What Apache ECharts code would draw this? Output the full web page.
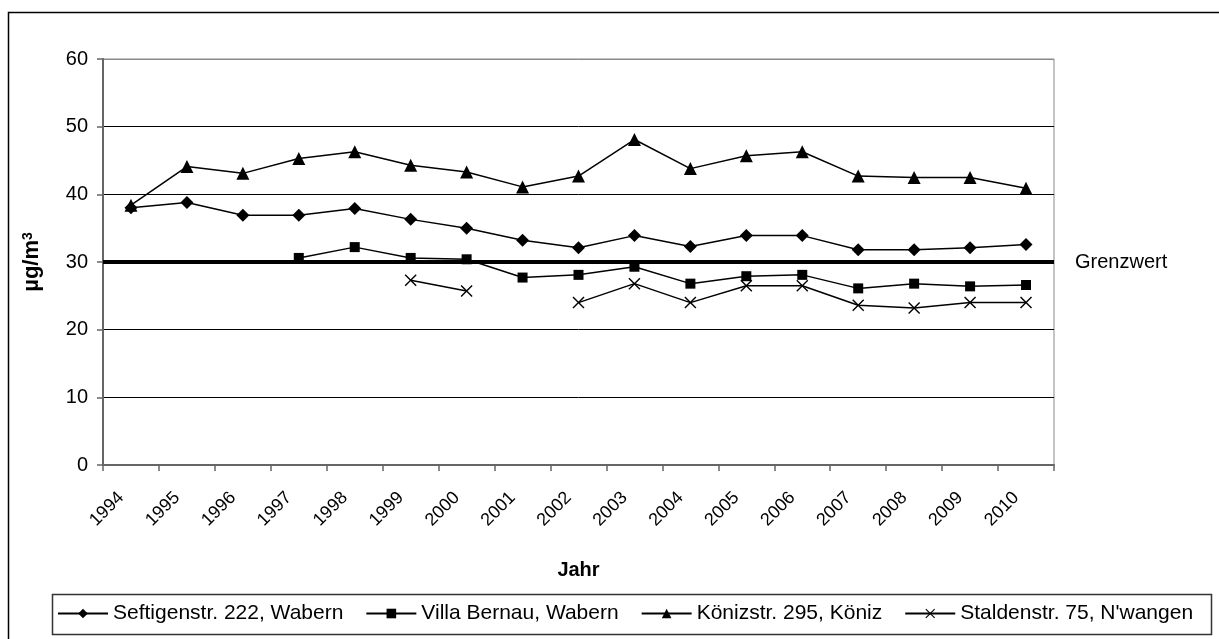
<!DOCTYPE html>
<html>
<head>
<meta charset="utf-8">
<script src="https://cdn.jsdelivr.net/npm/echarts@6/dist/echarts.min.js"></script>
<style>
  html, body { margin: 0; padding: 0; background: #fff; }
  #main { width: 1219px; height: 639px; }
</style>
</head>
<body>
<div id="main"></div>
<script>
var years = ['1994', '1995', '1996', '1997', '1998', '1999', '2000', '2001', '2002',
	'2003', '2004', '2005', '2006', '2007', '2008', '2009', '2010'];
var yTicks = [0, 10, 20, 30, 40, 50, 60];
var grenzwert = 30;

var seftigen = [38.0, 38.8, 36.9, 36.9, 37.9, 36.3, 35.0, 33.2, 32.1,
	33.9, 32.3, 33.9, 33.9, 31.8, 31.8, 32.1, 32.6];
var villaBernau = [null, null, null, 30.6, 32.2, 30.6, 30.4, 27.7, 28.1,
	29.3, 26.8, 27.9, 28.1, 26.1, 26.8, 26.4, 26.6];
var koeniz = [38.4, 44.1, 43.1, 45.3, 46.3, 44.3, 43.3, 41.1, 42.7,
	48.1, 43.8, 45.7, 46.3, 42.7, 42.5, 42.5, 40.9];
var stalden = [null, null, null, null, null, 27.3, 25.7, null, 24.0,
	26.8, 24.0, 26.5, 26.5, 23.6, 23.2, 24.0, 24.0];

var seriesNames = ['Seftigenstr. 222, Wabern', 'Villa Bernau, Wabern',
	'Könizstr. 295, Köniz', 'Staldenstr. 75, N\'wangen'];

// X marker as a thin filled polygon (path symbols are filled, not stroked)
var crossSymbol = 'path://M0,1L1,0L6,5L11,0L12,1L7,6L12,11L11,12L6,7L1,12L0,11L5,6Z';

var font = 'Liberation Sans, Arial, sans-serif';

function lineSeries(name, data, symbol, size) {
	return {
		name: name,
		type: 'line',
		data: data,
		symbol: symbol,
		symbolSize: size,
		connectNulls: false,
		itemStyle: { color: '#000' },
		lineStyle: { color: '#000', width: 1.5 },
		emphasis: { disabled: true },
		animation: false
	};
}

var myChart = echarts.init(document.getElementById('main'));

var series = [
	lineSeries(seriesNames[0], seftigen, 'diamond', 13),
	lineSeries(seriesNames[1], villaBernau, 'rect', 10),
	lineSeries(seriesNames[2], koeniz, 'triangle', 13),
	lineSeries(seriesNames[3], stalden, crossSymbol, 12)
];

series.push({
	name: 'Grenzwert',
	type: 'line',
	data: [],
	animation: false,
	markLine: {
		silent: true,
		symbol: ['none', 'none'],
		lineStyle: { color: '#000', width: 4, type: 'solid' },
		label: {
			show: true,
			position: 'end',
			formatter: 'Grenzwert',
			distance: 21,
			color: '#000',
			fontFamily: font,
			fontSize: 20
		},
		data: [{ yAxis: grenzwert }]
	}
});

option = {
	backgroundColor: '#fff',
	textStyle: { fontFamily: font },
	grid: {
		left: 103,
		right: 165,
		top: 59,
		bottom: 174,
		show: true,
		borderColor: '#888',
		borderWidth: 1
	},
	legend: {
		data: seriesNames,
		left: 57,
		top: 603,
		padding: 0,
		itemWidth: 50,
		itemHeight: 12,
		itemGap: 22,
		textStyle: { fontFamily: font, fontSize: 21, color: '#000' }
	},
	xAxis: {
		type: 'category',
		data: years,
		boundaryGap: true,
		name: 'Jahr',
		nameLocation: 'middle',
		nameGap: 95,
		nameTextStyle: { fontFamily: font, fontSize: 20, fontWeight: 'bold', color: '#000' },
		axisLine: { lineStyle: { color: '#666', width: 2 } },
		axisTick: { show: true, interval: 0, alignWithLabel: false, length: 6, lineStyle: { color: '#666', width: 1.5 } },
		axisLabel: {
			interval: 0, rotate: 45, margin: 20, padding: [0, 14, 0, 0],
			fontFamily: font, fontSize: 18, color: '#000'
		},
		splitLine: { show: false }
	},
	yAxis: {
		type: 'value',
		min: yTicks[0],
		max: yTicks[yTicks.length - 1],
		interval: 10,
		name: 'µg/m{sup|3}',
		nameLocation: 'middle',
		nameGap: 60,
		nameTextStyle: {
			fontFamily: font, fontSize: 22, fontWeight: 'bold', color: '#000',
			rich: {
				sup: { fontFamily: font, fontSize: 14, fontWeight: 'bold', color: '#000', verticalAlign: 'top', lineHeight: 22 }
			}
		},
		axisLine: { show: true, lineStyle: { color: '#666', width: 2 } },
		axisTick: { show: true, length: 6, lineStyle: { color: '#666', width: 1.5 } },
		axisLabel: { margin: 15, fontFamily: font, fontSize: 20, color: '#000' },
		splitLine: {
			show: true,
			lineStyle: { color: ['#666', '#000', '#000', '#000', '#000', '#000', '#888'], width: 1 }
		}
	},
	graphic: [
		{
			type: 'rect',
			silent: true,
			shape: { x: 8.5, y: 12.5, width: 1400, height: 800 },
			style: { fill: 'none', stroke: '#000', lineWidth: 1.5 }
		},
		{
			type: 'rect',
			silent: true,
			shape: { x: 52.5, y: 594.5, width: 1159, height: 40 },
			style: { fill: 'none', stroke: '#333', lineWidth: 1.5 }
		}
	],
	series: series
};
myChart.setOption(option);
</script>
</body>
</html>
